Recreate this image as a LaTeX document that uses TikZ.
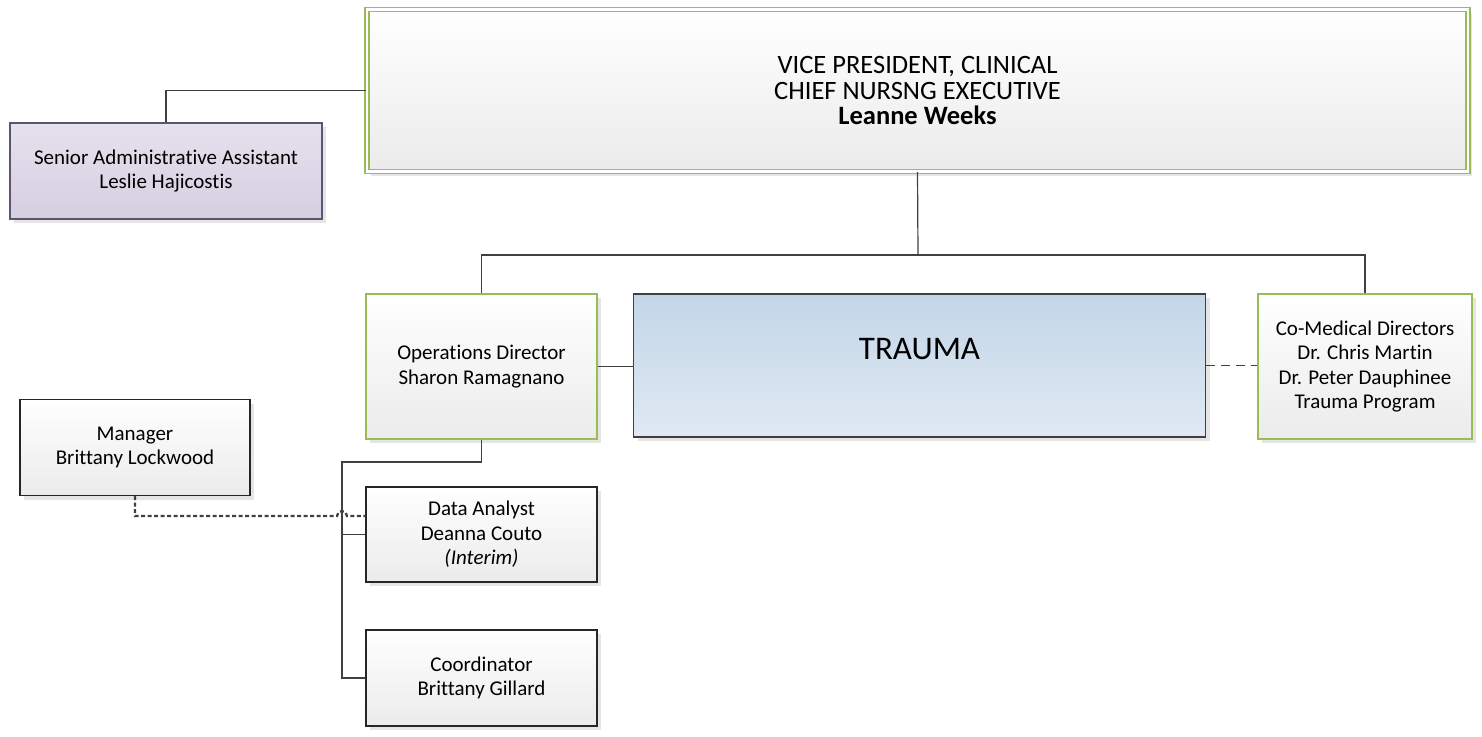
\documentclass[tikz,border=0pt]{standalone}
\usepackage{fontspec}
\setmainfont[Ligatures={NoCommon}]{Carlito}
\usetikzlibrary{shadows}
\definecolor{linegray}{HTML}{404040}
\definecolor{boxgray}{HTML}{EBEBEB}
\definecolor{leafgreen}{HTML}{9BBB59}
\definecolor{lilactop}{HTML}{E6E1EE}
\definecolor{lilacbot}{HTML}{D5CEE1}
\definecolor{lilacline}{HTML}{5C5470}
\definecolor{bluetop}{HTML}{C3D6E8}
\definecolor{bluebot}{HTML}{E0E9F3}
\tikzset{
  orgbox/.style={draw=black!85, line width=1.2pt, top color=white, bottom color=boxgray,
    drop shadow={shadow xshift=4pt, shadow yshift=-4pt, fill=black!10, opacity=1},
    align=center, inner sep=0pt, font=\fontsize{21}{24.5}\selectfont},
  greenbox/.style={orgbox, draw=leafgreen},
  lilacbox/.style={orgbox, draw=lilacline, top color=lilactop, bottom color=lilacbot},
  bluebox/.style={orgbox, draw=linegray, top color=bluetop, bottom color=bluebot},
  link/.style={draw=linegray, line width=1.2pt},
  dashlink/.style={link, dash pattern=on 9pt off 6pt},
  dotlink/.style={draw=black!75, line width=2.3pt, dash pattern=on 4pt off 2.5pt}
}

\begin{document}
\begin{tikzpicture}[x=1pt, y=-1pt]
	%%%%% START %%%%%
	\useasboundingbox (0, 0) rectangle (1482, 736);
	
	\node[greenbox, double=white, double distance=2.6pt, line width=1.3pt,
	      minimum width=1101, minimum height=162, font=\fontsize{26.5}{25.5}\selectfont]
	      (vp) at (917.5, 90.5) {VICE PRESIDENT, CLINICAL\\CHIEF NURSNG EXECUTIVE\\\textbf{Leanne Weeks}};
	
	\node[lilacbox, minimum width=312, minimum height=96] (assistant) at (166, 171)
	      {Senior Administrative Assistant\\Leslie Hajicostis};
	
	\node[greenbox, minimum width=231, minimum height=145] (ops) at (481.5, 366.5)
	      {Operations Director\\Sharon Ramagnano};
	\node[bluebox, minimum width=572, minimum height=143, font=\fontsize{33}{38}\selectfont,
	      text height=22pt, text depth=35pt] (trauma) at (919.5, 365.5) {TRAUMA};
	\node[greenbox, minimum width=214, minimum height=145] (comed) at (1365, 366.5)
	      {Co-Medical Directors\\Dr. Chris Martin\\Dr. Peter Dauphinee\\Trauma Program};
	
	\node[orgbox, minimum width=230, minimum height=96] (manager) at (135, 447.5)
	      {Manager\\Brittany Lockwood};
	\node[orgbox, minimum width=231, minimum height=95] (analyst) at (481.5, 534.5)
	      {Data Analyst\\Deanna Couto\\\textit{(Interim)}};
	\node[orgbox, minimum width=231, minimum height=96] (coord) at (481.5, 678)
	      {Coordinator\\Brittany Gillard};
	
	% lines
	\coordinate (bus) at (918, 255);
	\coordinate (spine) at (342, 462);
	\coordinate (hop) at (337, 516);
	
	\draw[link] (assistant.north) |- (vp.west);
	\draw[link] (vp.south) -- (bus);
	\draw[link] (ops.north) |- (bus) -| (comed.north);
	\draw[link] (ops.east) -- (ops.east -| trauma.west);
	\draw[dashlink] (trauma.east) -- (trauma.east -| comed.west);
	
	\draw[link] (ops.south) |- (spine) -- (spine |- coord.west) -- (coord.west);
	\draw[link] (spine |- analyst.west) -- (analyst.west);
	
	\draw[dotlink] (manager.south) |- (hop) arc[start angle=180, end angle=0, radius=5pt]
	      -- (hop -| analyst.west);
	
	%%%%% END %%%%%
\end{tikzpicture}
\end{document}
